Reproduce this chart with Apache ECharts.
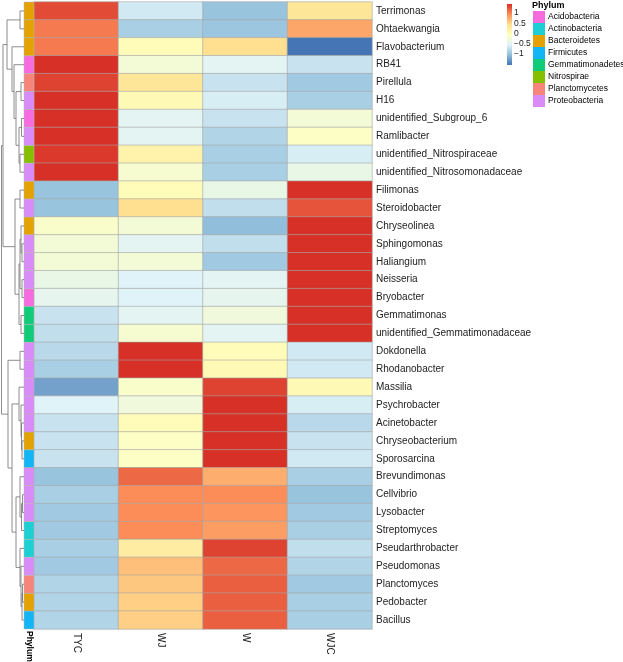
<!DOCTYPE html>
<html>
<head>
<meta charset="utf-8">
<script src="https://cdn.jsdelivr.net/npm/echarts@6.0.0/dist/echarts.min.js"></script>
<style>
  html, body { margin: 0; padding: 0; background: #fff; }
  #main { width: 623px; height: 662px; }
</style>
</head>
<body>
<div id="main"></div>
<script>
// genera, top to bottom (dendrogram order)
const rowNames = [
  'Terrimonas', 'Ohtaekwangia', 'Flavobacterium', 'RB41', 'Pirellula', 'H16',
  'unidentified_Subgroup_6', 'Ramlibacter', 'unidentified_Nitrospiraceae',
  'unidentified_Nitrosomonadaceae', 'Filimonas', 'Steroidobacter', 'Chryseolinea',
  'Sphingomonas', 'Haliangium', 'Neisseria', 'Bryobacter', 'Gemmatimonas',
  'unidentified_Gemmatimonadaceae', 'Dokdonella', 'Rhodanobacter', 'Massilia',
  'Psychrobacter', 'Acinetobacter', 'Chryseobacterium', 'Sporosarcina',
  'Brevundimonas', 'Cellvibrio', 'Lysobacter', 'Streptomyces', 'Pseudarthrobacter',
  'Pseudomonas', 'Planctomyces', 'Pedobacter', 'Bacillus'
]
const rowPhylum = [
  'Bacteroidetes', 'Bacteroidetes', 'Bacteroidetes', 'Acidobacteria', 'Planctomycetes',
  'Proteobacteria', 'Acidobacteria', 'Proteobacteria', 'Nitrospirae', 'Proteobacteria',
  'Bacteroidetes', 'Proteobacteria', 'Bacteroidetes', 'Proteobacteria', 'Proteobacteria',
  'Proteobacteria', 'Acidobacteria', 'Gemmatimonadetes', 'Gemmatimonadetes',
  'Proteobacteria', 'Proteobacteria', 'Proteobacteria', 'Proteobacteria', 'Proteobacteria',
  'Bacteroidetes', 'Firmicutes', 'Proteobacteria', 'Proteobacteria', 'Proteobacteria',
  'Actinobacteria', 'Actinobacteria', 'Proteobacteria', 'Planctomycetes', 'Bacteroidetes',
  'Firmicutes'
]
const sampleNames = ['TYC', 'WJ', 'W', 'WJC']

// row-scaled abundance (z-score) per sample
const tycValues = [1.3, 1.05, 1.05, 1.45, 1.35, 1.45, 1.45, 1.45, 1.4, 1.45, -1.0, -1.0,
  -0.15, -0.25, -0.25, -0.4, -0.45, -0.7, -0.75, -0.8, -0.9, -1.25, -0.55, -0.7, -0.7, -0.7,
  -1.0, -0.9, -0.95, -0.95, -0.9, -0.95, -0.85, -0.85, -0.85]
const wjValues = [-0.65, -0.9, 0.0, -0.25, 0.35, 0.05, -0.5, -0.5, 0.15, -0.2, 0.0, 0.45,
  -0.25, -0.5, -0.25, -0.55, -0.55, -0.5, -0.2, 1.45, 1.45, -0.15, -0.3, 0.0, -0.1, -0.1,
  1.15, 0.95, 0.95, 0.95, 0.25, 0.65, 0.6, 0.55, 0.55]
const wValues = [-1.0, -0.98, 0.45, -0.5, -0.7, -0.6, -0.7, -0.85, -0.9, -0.9, -0.4, -0.75,
  -1.05, -0.75, -0.95, -0.5, -0.45, -0.3, -0.5, 0.0, 0.05, 1.35, 1.45, 1.45, 1.45, 1.45,
  0.75, 0.95, 0.9, 0.85, 1.35, 1.15, 1.2, 1.2, 1.2]
const wjcValues = [0.35, 0.8, -1.55, -0.7, -0.95, -0.9, -0.25, -0.1, -0.6, -0.4, 1.45, 1.25,
  1.45, 1.45, 1.45, 1.45, 1.45, 1.45, 1.45, -0.65, -0.65, 0.05, -0.6, -0.8, -0.7, -0.65,
  -0.9, -1.0, -0.95, -0.9, -0.75, -0.85, -0.95, -0.9, -0.9]

const phylumNames = ['Acidobacteria', 'Actinobacteria', 'Bacteroidetes', 'Firmicutes',
  'Gemmatimonadetes', 'Nitrospirae', 'Planctomycetes', 'Proteobacteria']
const phylumColors = ['#F66CDF', '#1CCFD3', '#E4A200', '#12B6F6', '#10CB78', '#86BF00',
  '#F8857C', '#D98BF8']

const scaleTicks = [-1, -0.5, 0, 0.5, 1]
const palette = ['#4575B4', '#91BFDB', '#E0F3F8', '#FFFFBF', '#FEE090', '#FC8D59', '#D73027']

// row clustering: [left, right, height]; strings are leaves, numbers earlier merges
const rowMerges = [
  ['Terrimonas', 'Ohtaekwangia', 4],
  ['Pirellula', 'H16', 3],
  ['unidentified_Subgroup_6', 'Ramlibacter', 2.5],
  ['unidentified_Nitrospiraceae', 'unidentified_Nitrosomonadaceae', 4],
  [2, 3, 5],
  [1, 4, 8],
  ['RB41', 5, 10],
  ['Flavobacterium', 6, 12],
  [0, 7, 17],
  ['Filimonas', 'Steroidobacter', 4],
  ['Sphingomonas', 'Haliangium', 2],
  ['Chryseolinea', 10, 3],
  ['Neisseria', 'Bryobacter', 2],
  [11, 12, 4],
  ['Gemmatimonas', 'unidentified_Gemmatimonadaceae', 3],
  [13, 14, 5],
  [9, 15, 9],
  [8, 16, 21],
  ['Dokdonella', 'Rhodanobacter', 4],
  ['Chryseobacterium', 'Sporosarcina', 2],
  ['Acinetobacter', 19, 2.5],
  ['Psychrobacter', 20, 3],
  ['Massilia', 21, 5],
  ['Cellvibrio', 'Lysobacter', 1.5],
  [23, 'Streptomyces', 2.5],
  ['Brevundimonas', 24, 4],
  ['Planctomyces', 'Pedobacter', 1.5],
  [26, 'Bacillus', 2],
  ['Pseudomonas', 27, 3],
  ['Pseudarthrobacter', 28, 4],
  [25, 29, 8],
  [22, 30, 12],
  [18, 31, 16],
  [17, 32, 22.5]
]

const FONT = 'Liberation Sans, Arial, Helvetica, sans-serif'

// heatmap cells
const columns = [tycValues, wjValues, wValues, wjcValues]
const heatData = []
columns.forEach((vals, j) => {
  vals.forEach((v, i) => heatData.push([j, i, v]))
})
const allValues = [].concat(...columns)
const vMin = Math.min(...allValues)
const vMax = Math.max(...allValues)

// dendrogram segments
const leafPos = {}
rowNames.forEach((n, i) => { leafPos[n] = i })
const nodes = []
const dendroData = rowMerges.map(([a, b, h]) => {
  const ca = typeof a === 'string' ? { y: leafPos[a], h: 0 } : nodes[a]
  const cb = typeof b === 'string' ? { y: leafPos[b], h: 0 } : nodes[b]
  nodes.push({ y: (ca.y + cb.y) / 2, h: h })
  return [h, ca.y, cb.y, ca.h, cb.h]
})

const gridBase = { top: 2, height: 627, outerBoundsMode: 'none' }
const hiddenAxis = {
  axisLine: { show: false }, axisTick: { show: false },
  axisLabel: { show: false }, splitLine: { show: false }
}

// phylum side bar, one series per phylum so the legend picks the colours
const phylumSeries = phylumNames.map((name, k) => ({
  name: name,
  type: 'custom',
  xAxisIndex: 1,
  yAxisIndex: 1,
  itemStyle: { color: phylumColors[k] },
  data: rowPhylum.map((p, i) => (p === name ? [0, i] : null)).filter(d => d),
  renderItem: function (params, api) {
    const c = api.coord([api.value(0), api.value(1)])
    const s = api.size([1, 1])
    return {
      type: 'rect',
      shape: { x: c[0] - s[0] / 2, y: c[1] - s[1] / 2, width: s[0], height: s[1] },
      style: { fill: api.visual('color'), stroke: '#b5b5b5', lineWidth: 0.5 }
    }
  }
}))

const chart = echarts.init(document.getElementById('main'))
chart.setOption({
  backgroundColor: '#fff',
  animation: false,
  textStyle: { fontFamily: FONT },
  title: {
    text: 'Phylum',
    left: 532,
    top: 1,
    padding: 0,
    textStyle: { fontSize: 9, fontWeight: 'bold', color: '#000', fontFamily: FONT }
  },
  legend: {
    data: phylumNames,
    orient: 'vertical',
    left: 533,
    top: 11,
    padding: 0,
    itemGap: 0,
    itemWidth: 12,
    itemHeight: 12,
    icon: 'rect',
    selectedMode: false,
    textStyle: { fontSize: 8.5, color: '#000', fontFamily: FONT, padding: [0, 0, 0, -2] }
  },
  visualMap: {
    show: false,
    type: 'continuous',
    seriesIndex: 0,
    min: vMin,
    max: vMax,
    dimension: 2,
    inRange: { color: palette }
  },
  grid: [
    Object.assign({ left: 34, width: 338 }, gridBase),
    Object.assign({ left: 24, width: 10 }, gridBase),
    Object.assign({ left: 0, width: 24 }, gridBase),
    { left: 507, top: 4, width: 5, height: 61, outerBoundsMode: 'none' }
  ],
  xAxis: [
    {
      type: 'category', gridIndex: 0, data: sampleNames, position: 'bottom',
      axisLine: { show: false }, axisTick: { show: false }, splitLine: { show: false },
      axisLabel: { rotate: -90, margin: 4, fontSize: 10, color: '#222', fontFamily: FONT }
    },
    {
      type: 'category', gridIndex: 1, data: ['Phylum'], position: 'bottom',
      axisLine: { show: false }, axisTick: { show: false }, splitLine: { show: false },
      axisLabel: { rotate: -90, margin: 2, fontSize: 8.5, fontWeight: 'bold', color: '#000', fontFamily: FONT }
    },
    Object.assign({ type: 'value', gridIndex: 2, min: 0, max: 24, inverse: true }, hiddenAxis),
    Object.assign({ type: 'category', gridIndex: 3, data: [''] }, hiddenAxis)
  ],
  yAxis: [
    {
      type: 'category', gridIndex: 0, data: rowNames, inverse: true, position: 'right',
      axisLine: { show: false }, axisTick: { show: false }, splitLine: { show: false },
      axisLabel: { margin: 4, fontSize: 10, color: '#222', fontFamily: FONT }
    },
    Object.assign({ type: 'category', gridIndex: 1, data: rowNames, inverse: true }, hiddenAxis),
    Object.assign({ type: 'value', gridIndex: 2, min: -0.5, max: rowNames.length - 0.5, inverse: true }, hiddenAxis),
    {
      type: 'value', gridIndex: 3, min: vMin, max: vMax, position: 'right',
      axisLine: { show: false }, axisTick: { show: false }, splitLine: { show: false },
      axisLabel: {
        customValues: scaleTicks,
        margin: 2,
        fontSize: 8.5,
        color: '#222',
        fontFamily: FONT,
        formatter: v => String(v).replace('-', '\u2212')
      }
    }
  ],
  series: [
    {
      type: 'heatmap',
      xAxisIndex: 0,
      yAxisIndex: 0,
      data: heatData,
      itemStyle: { borderColor: '#a6a6a6', borderWidth: 0.6 },
      emphasis: { disabled: true }
    },
    ...phylumSeries,
    {
      type: 'custom',
      xAxisIndex: 2,
      yAxisIndex: 2,
      data: dendroData,
      silent: true,
      renderItem: function (params, api) {
        const h = api.value(0), ya = api.value(1), yb = api.value(2)
        const ha = api.value(3), hb = api.value(4)
        return {
          type: 'polyline',
          shape: { points: [api.coord([ha, ya]), api.coord([h, ya]), api.coord([h, yb]), api.coord([hb, yb])] },
          style: { stroke: '#707070', lineWidth: 0.8, fill: null }
        }
      }
    },
    {
      // colour key
      type: 'custom',
      xAxisIndex: 3,
      yAxisIndex: 3,
      data: [[0, vMin, vMax]],
      silent: true,
      renderItem: function (params, api) {
        const top = api.coord([0, api.value(2)])
        const bottom = api.coord([0, api.value(1)])
        const w = api.size([1, 0])[0]
        const stops = palette.slice().reverse().map((c, k) => ({ offset: k / (palette.length - 1), color: c }))
        return {
          type: 'rect',
          shape: { x: top[0] - w / 2, y: top[1], width: w, height: bottom[1] - top[1] },
          style: { fill: new echarts.graphic.LinearGradient(0, 0, 0, 1, stops) }
        }
      }
    }
  ]
})
</script>
</body>
</html>
